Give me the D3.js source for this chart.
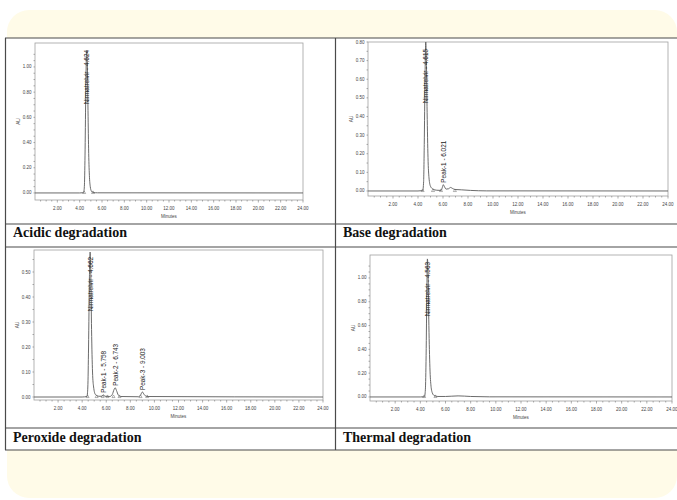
<!DOCTYPE html>
<html>
<head>
<meta charset="utf-8">
<script src="https://cdn.jsdelivr.net/npm/d3@7"></script>
<style>
  html, body { margin: 0; padding: 0; background: #ffffff; }
  svg { display: block; }
</style>
</head>
<body>
<div id="chart"></div>
<script>
// ---- data ----
const captions = ["Acidic degradation", "Base degradation", "Peroxide degradation", "Thermal degradation"];
const xTicks = [2, 4, 6, 8, 10, 12, 14, 16, 18, 20, 22, 24];

const acidicYTicks = [0, 0.2, 0.4, 0.6, 0.8, 1.0];
const baseYTicks = [0, 0.1, 0.2, 0.3, 0.4, 0.5, 0.6, 0.7, 0.8];
const peroxideYTicks = [0, 0.1, 0.2, 0.3, 0.4, 0.5];
const thermalYTicks = [0, 0.2, 0.4, 0.6, 0.8, 1.0];

// [minutes, AU]
const acidicTrace = [[0, 0], [4.0, 0], [4.35, 0.002], [4.42, 0.05], [4.48, 0.3], [4.54, 0.75], [4.6, 1.08],
  [4.63, 1.13], [4.68, 1.05], [4.74, 0.7], [4.8, 0.35], [4.87, 0.14], [4.95, 0.05], [5.05, 0.015],
  [5.2, 0.004], [5.6, 0.001], [24, 0]];
const baseTrace = [[0, 0], [4.0, 0], [4.38, 0.002], [4.45, 0.05], [4.5, 0.25], [4.56, 0.6], [4.62, 0.8],
  [4.67, 0.7], [4.73, 0.42], [4.8, 0.18], [4.88, 0.07], [5.0, 0.025], [5.2, 0.01], [5.5, 0.004],
  [5.85, 0.003], [5.95, 0.02], [6.02, 0.034], [6.1, 0.025], [6.25, 0.01], [6.45, 0.012], [6.6, 0.019],
  [6.75, 0.014], [6.95, 0.008], [7.5, 0.006], [8.2, 0.003], [9.5, 0.0005], [24, 0]];
const peroxideTrace = [[0, 0], [4.0, 0], [4.4, 0.002], [4.47, 0.04], [4.53, 0.2], [4.6, 0.47], [4.66, 0.58],
  [4.72, 0.48], [4.78, 0.27], [4.86, 0.1], [4.95, 0.04], [5.1, 0.01], [5.4, 0.003], [5.65, 0.003],
  [5.76, 0.009], [5.87, 0.003], [6.3, 0.002], [6.5, 0.01], [6.65, 0.03], [6.74, 0.037], [6.85, 0.026],
  [7.0, 0.008], [7.2, 0.002], [8.7, 0.001], [8.85, 0.008], [9.0, 0.02], [9.15, 0.01], [9.35, 0.002], [24, 0]];
const thermalTrace = [[0, 0], [4.0, 0], [4.33, 0.002], [4.4, 0.06], [4.46, 0.35], [4.52, 0.9], [4.56, 1.16],
  [4.62, 1.02], [4.68, 0.6], [4.76, 0.25], [4.85, 0.09], [4.95, 0.035], [5.1, 0.012], [5.4, 0.004],
  [6.0, 0.004], [7.0, 0.009], [8.0, 0.004], [9.5, 0.001], [24, 0]];

// named peaks: label, retention time, apex AU
const acidicPeaks = [{ name: "Nirmatrelvir", rt: 4.624, au: 1.13 }];
const basePeaks = [{ name: "Nirmatrelvir", rt: 4.615, au: 0.8 }, { name: "Peak-1", rt: 6.021, au: 0.034 }];
const peroxidePeaks = [{ name: "Nirmatrelvir", rt: 4.662, au: 0.58 }, { name: "Peak-1", rt: 5.758, au: 0.009 },
  { name: "Peak-2", rt: 6.743, au: 0.037 }, { name: "Peak-3", rt: 9.003, au: 0.02 }];
const thermalPeaks = [{ name: "Nirmatrelvir", rt: 4.563, au: 1.16 }];

// integration start / end markers on the baseline (minutes)
const acidicMarks = [4.4, 5.2];
const baseMarks = [4.37, 5.2, 5.84, 6.95];
const peroxideMarks = [4.45, 5.2, 5.7, 6.1, 6.6, 7.1, 8.85, 9.4];
const thermalMarks = [4.3, 5.2];

// ---- layout ----
const width = 677;
const height = 500;

const panels = [
  { trace: acidicTrace, peaks: acidicPeaks, marks: acidicMarks, yTicks: acidicYTicks, yMinor: 0.05,
    yDomain: [-0.056, 1.19], l: 35, t: 43, r: 303, b: 200 },
  { trace: baseTrace, peaks: basePeaks, marks: baseMarks, yTicks: baseYTicks, yMinor: 0.05,
    yDomain: [-0.027, 0.80], l: 368, t: 42, r: 668, b: 196 },
  { trace: peroxideTrace, peaks: peroxidePeaks, marks: peroxideMarks, yTicks: peroxideYTicks, yMinor: 0.05,
    yDomain: [-0.012, 0.588], l: 34, t: 250, r: 323, b: 400 },
  { trace: thermalTrace, peaks: thermalPeaks, marks: thermalMarks, yTicks: thermalYTicks, yMinor: 0.05,
    yDomain: [-0.034, 1.193], l: 370, t: 255, r: 672, b: 401 }
];

const svg = d3
  .select("#chart")
  .append("svg")
  .attr("width", width)
  .attr("height", height);

svg.append("rect").attr("width", width).attr("height", height).attr("fill", "#ffffff");

// cream card
svg.append("rect")
  .attr("x", 7).attr("y", 10)
  .attr("width", 670).attr("height", 488)
  .attr("rx", 22)
  .attr("fill", "#fffbe8");

// table
svg.append("rect")
  .attr("x", 5).attr("y", 38)
  .attr("width", 690).attr("height", 412)
  .attr("fill", "#ffffff");

const tableLine = "#4a4a4a";
[[5, 38, 690, 38], [5, 224, 690, 224], [5, 247, 690, 247], [5, 428, 690, 428], [5, 450, 690, 450],
 [5.5, 38, 5.5, 450], [335.5, 38, 335.5, 450]].forEach((d) => {
  svg.append("line")
    .attr("x1", d[0]).attr("y1", d[1]).attr("x2", d[2]).attr("y2", d[3])
    .attr("stroke", tableLine).attr("stroke-width", 1.2);
});

// captions
const captionPos = [[13, 237], [343, 237], [13, 442], [343, 442]];
captions.forEach((c, i) => {
  svg.append("text")
    .attr("x", captionPos[i][0]).attr("y", captionPos[i][1])
    .attr("font-family", "'Liberation Serif', 'Times New Roman', serif")
    .attr("font-weight", "bold")
    .attr("font-size", 14)
    .attr("fill", "#111")
    .text(c);
});

const tickFont = "'Liberation Sans', Arial, sans-serif";

panels.forEach((p, i) => {
  const g = svg.append("g");
  const x = d3.scaleLinear().domain([0, 24]).range([p.l, p.r]);
  const y = d3.scaleLinear().domain(p.yDomain).range([p.b, p.t]);

  // frame
  g.append("rect")
    .attr("x", p.l).attr("y", p.t)
    .attr("width", p.r - p.l).attr("height", p.b - p.t)
    .attr("fill", "none").attr("stroke", "#a0a0a0").attr("stroke-width", 0.8);

  // x ticks
  const xMinor = d3.range(0.5, 24.01, 0.5);
  g.selectAll(".xm").data(xMinor).enter().append("line")
    .attr("x1", (d) => x(d)).attr("x2", (d) => x(d))
    .attr("y1", p.b).attr("y2", (d) => p.b + (d % 2 === 0 ? 2.5 : 1.5))
    .attr("stroke", "#777").attr("stroke-width", 0.6);
  g.selectAll(".xl").data(xTicks).enter().append("text")
    .attr("x", (d) => x(d)).attr("y", p.b + 9.5)
    .attr("text-anchor", "middle")
    .attr("font-family", tickFont).attr("font-size", 4.5).attr("fill", "#444")
    .text((d) => d.toFixed(2));
  g.append("text")
    .attr("x", (p.l + p.r) / 2).attr("y", p.b + 17.5)
    .attr("text-anchor", "middle")
    .attr("font-family", tickFont).attr("font-size", 4.5).attr("fill", "#444")
    .text("Minutes");

  // y ticks
  const yTop = p.yTicks[p.yTicks.length - 1];
  const yMinorTicks = d3.range(0, yTop + 0.0001 + 0.1, p.yMinor).filter((v) => v <= p.yDomain[1]);
  g.selectAll(".ym").data(yMinorTicks).enter().append("line")
    .attr("x1", p.l).attr("x2", p.l - 1.5)
    .attr("y1", (d) => y(d)).attr("y2", (d) => y(d))
    .attr("stroke", "#777").attr("stroke-width", 0.6);
  g.selectAll(".yl").data(p.yTicks).enter().append("text")
    .attr("x", p.l - 3.5).attr("y", (d) => y(d) + 1.5)
    .attr("text-anchor", "end")
    .attr("font-family", tickFont).attr("font-size", 4.5).attr("fill", "#444")
    .text((d) => d.toFixed(2));
  g.append("text")
    .attr("transform", `translate(${p.l - 15},${(p.t + p.b) / 2}) rotate(-90)`)
    .attr("text-anchor", "middle")
    .attr("font-family", tickFont).attr("font-size", 4.8).attr("fill", "#444")
    .text("AU");

  // trace
  const clipId = "clip" + i;
  svg.append("clipPath").attr("id", clipId).append("rect")
    .attr("x", p.l).attr("y", p.t).attr("width", p.r - p.l).attr("height", p.b - p.t);
  const line = d3.line()
    .x((d) => x(d[0]))
    .y((d) => y(d[1]))
    .curve(d3.curveMonotoneX);
  g.append("path")
    .datum(p.trace)
    .attr("clip-path", `url(#${clipId})`)
    .attr("d", line)
    .attr("fill", "none")
    .attr("stroke", "#5a5a5a")
    .attr("stroke-width", 0.9);

  // baseline markers
  g.selectAll(".mk").data(p.marks).enter().append("path")
    .attr("transform", (d) => `translate(${x(d)},${y(0) - 0.3})`)
    .attr("d", d3.symbol().type(d3.symbolTriangle).size(4))
    .attr("fill", "none").attr("stroke", "#666").attr("stroke-width", 0.5);

  // peak labels
  p.peaks.forEach((pk) => {
    const label = g.append("text")
      .attr("font-family", tickFont).attr("font-size", 6.4).attr("fill", "#222")
      .attr("dy", "0.35em")
      .text(`${pk.name} - ${pk.rt.toFixed(3)}`);
    const len = label.node().getComputedTextLength();
    let start = y(pk.au) - 2;
    if (start - len < p.t + 7) start = p.t + 7 + len;
    label.attr("transform", `translate(${x(pk.rt) + 0.5},${start}) rotate(-90)`);
  });
});
</script>
</body>
</html>
